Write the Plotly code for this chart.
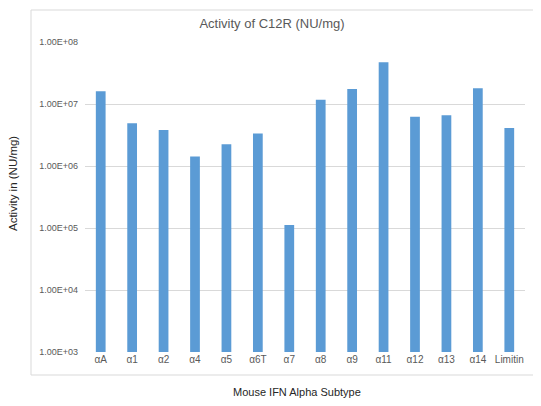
import plotly.graph_objects as go

subtypes = ["αA", "α1", "α2", "α4", "α5", "α6T", "α7", "α8", "α9", "α11", "α12", "α13", "α14", "Limitin"]
activity = [1.6e7, 4.9e6, 3.8e6, 1.42e6, 2.25e6, 3.35e6, 1.12e5, 1.17e7, 1.75e7, 4.7e7, 6.2e6, 6.6e6, 1.8e7, 4.1e6]
tick_vals = [1e3, 1e4, 1e5, 1e6, 1e7, 1e8]
tick_text = ["1.00E+03", "1.00E+04", "1.00E+05", "1.00E+06", "1.00E+07", "1.00E+08"]

FONT = "Liberation Sans, Arial, sans-serif"
GREY = "#595959"

# the page body adds an 8px margin, so the figure is a bit smaller than the window
W, H = 533, 398
L, T, PW, PH = 77, 34, 440, 310

fig = go.Figure()
fig.add_trace(go.Bar(x=subtypes, y=activity, marker_color="#5B9BD5", marker_line_width=0))

fig.update_layout(
    width=W,
    height=H,
    margin=dict(l=L, r=W - L - PW, t=T, b=H - T - PH, pad=0),
    paper_bgcolor="white",
    plot_bgcolor="white",
    bargap=0.69,
    showlegend=False,
    font=dict(family=FONT, color=GREY, size=9),
    title=dict(
        text="Activity of C12R (NU/mg)",
        x=264 / W,
        xanchor="center",
        y=1 - 15 / H,
        yanchor="middle",
        font=dict(size=13, color=GREY, family=FONT),
    ),
)
fig.update_yaxes(
    type="log",
    range=[3, 8],
    tickvals=tick_vals,
    ticktext=tick_text,
    showgrid=True,
    gridcolor="#d9d9d9",
    gridwidth=1,
    zeroline=False,
    showline=False,
    ticks="",
    ticklabelstandoff=6,
    automargin=False,
    tickfont=dict(size=9, color=GREY),
)
fig.update_xaxes(
    showline=False,
    ticks="",
    automargin=False,
    tickfont=dict(size=10, color=GREY),
)

# outer chart frame
fig.add_shape(
    type="rect", xref="paper", yref="paper",
    x0=-54 / PW, x1=451 / PW,
    y0=-23 / PH, y1=342 / PH,
    line=dict(color="#d9d9d9", width=1), fillcolor="rgba(0,0,0,0)", layer="below",
)

fig.add_annotation(
    text="Mouse IFN Alpha Subtype", xref="paper", yref="paper",
    x=212 / PW, y=-40 / PH, showarrow=False,
    xanchor="center", yanchor="middle",
    font=dict(size=11, color="#262626", family=FONT),
)
fig.add_annotation(
    text="Activity in (NU/mg)", xref="paper", yref="paper",
    x=-72 / PW, y=168 / PH, showarrow=False, textangle=-90,
    xanchor="center", yanchor="middle",
    font=dict(size=11.5, color="#262626", family=FONT),
)

fig.write_html("out.html")
